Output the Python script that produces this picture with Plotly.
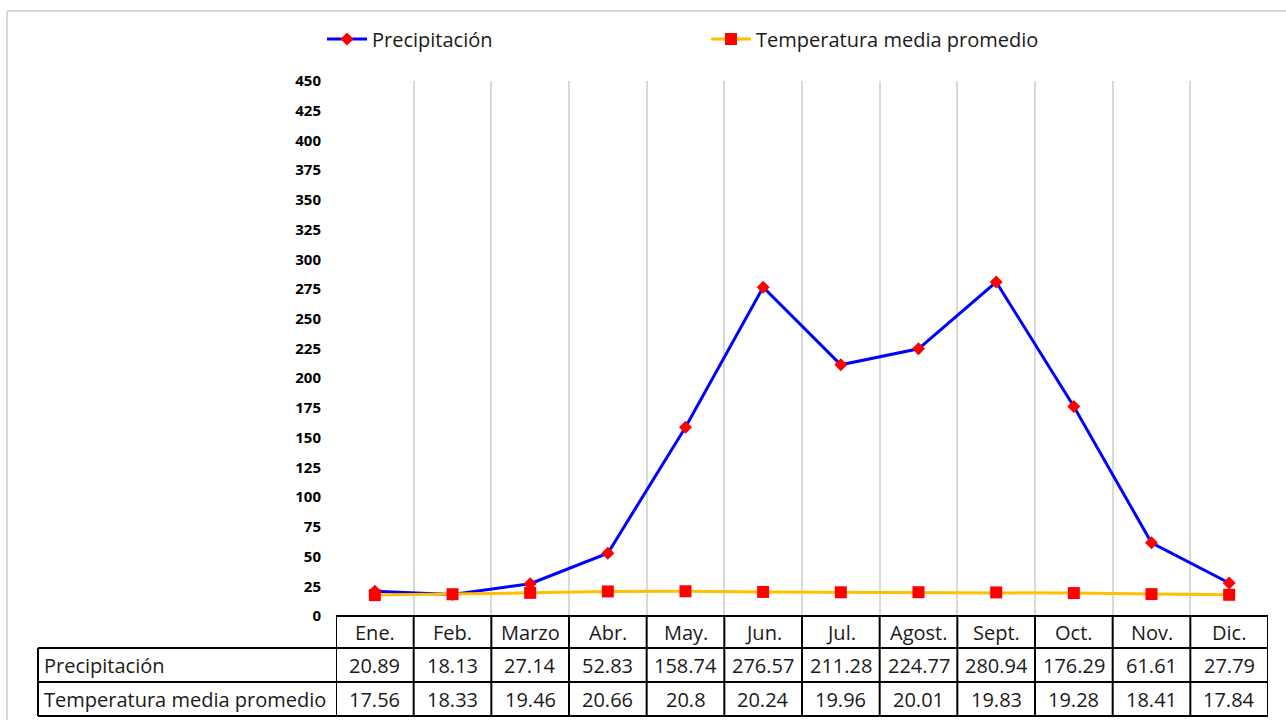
import plotly.graph_objects as go

months = ["Ene.", "Feb.", "Marzo", "Abr.", "May.", "Jun.", "Jul.", "Agost.", "Sept.", "Oct.", "Nov.", "Dic."]
precip = [20.89, 18.13, 27.14, 52.83, 158.74, 276.57, 211.28, 224.77, 280.94, 176.29, 61.61, 27.79]
temp = [17.56, 18.33, 19.46, 20.66, 20.8, 20.24, 19.96, 20.01, 19.83, 19.28, 18.41, 17.84]
series_names = ["Precipitación", "Temperatura media promedio"]

W, H = 1286, 720
FONT = "Open Sans"

def px(x):
    return x / W

def py(y):
    return 1 - y / H

plot_left, plot_right, plot_top, plot_bottom = 336, 1268, 81, 616
row_lines = [616, 648, 682, 716]
table_left = 38

fig = go.Figure()
fig.add_trace(go.Scatter(
    x=months, y=precip, name=series_names[0], mode="lines+markers",
    line=dict(color="#0000FF", width=3),
    marker=dict(symbol="diamond", color="#FF0000", size=10),
))
fig.add_trace(go.Scatter(
    x=months, y=temp, name=series_names[1], mode="lines+markers",
    line=dict(color="#FFC000", width=3),
    marker=dict(symbol="square", color="#FF0000", size=12),
))

shapes = []
# outer light frame
shapes.append(dict(type="line", xref="paper", yref="paper", x0=px(7), x1=1.01, y0=py(11), y1=py(11),
                   line=dict(color="#D9D9D9", width=2)))
shapes.append(dict(type="line", xref="paper", yref="paper", x0=px(7), x1=px(7), y0=py(11), y1=-0.01,
                   line=dict(color="#D9D9D9", width=2)))

# table horizontal lines
blk = dict(color="#000000", width=2)
shapes.append(dict(type="line", xref="paper", yref="paper", x0=px(plot_left), x1=px(plot_right),
                   y0=py(row_lines[0]), y1=py(row_lines[0]), line=blk))
for r in row_lines[1:]:
    shapes.append(dict(type="line", xref="paper", yref="paper", x0=px(table_left), x1=px(plot_right),
                       y0=py(r), y1=py(r), line=blk))
# table vertical lines
shapes.append(dict(type="line", xref="paper", yref="paper", x0=px(table_left), x1=px(table_left),
                   y0=py(row_lines[1]), y1=py(row_lines[3]), line=blk))
for i in range(len(months) + 1):
    shapes.append(dict(type="line", xref="x", yref="paper", x0=i - 0.5, x1=i - 0.5,
                       y0=py(row_lines[0]), y1=py(row_lines[3]), line=blk))

annotations = []
tfont = dict(family=FONT, size=20, color="#1a1a1a")
for i, m in enumerate(months):
    annotations.append(dict(x=i, y=py((row_lines[0] + row_lines[1]) / 2), xref="x", yref="paper",
                            text=m, showarrow=False, font=tfont, xanchor="center", yanchor="middle"))
    annotations.append(dict(x=i, y=py((row_lines[1] + row_lines[2]) / 2), xref="x", yref="paper",
                            text=str(precip[i]), showarrow=False, font=tfont, xanchor="center", yanchor="middle"))
    annotations.append(dict(x=i, y=py((row_lines[2] + row_lines[3]) / 2), xref="x", yref="paper",
                            text=str(temp[i]), showarrow=False, font=tfont, xanchor="center", yanchor="middle"))
for k, nm in enumerate(series_names):
    annotations.append(dict(x=px(table_left + 4), y=py((row_lines[1 + k] + row_lines[2 + k]) / 2),
                            xref="paper", yref="paper", text=nm, showarrow=False, font=tfont,
                            xanchor="left", yanchor="middle"))

fig.update_layout(
    width=W, height=H,
    margin=dict(l=0, r=0, t=0, b=0, autoexpand=False),
    paper_bgcolor="white", plot_bgcolor="white",
    font=dict(family=FONT, color="#1a1a1a"),
    showlegend=True,
    legend=dict(orientation="h", x=px(322), y=py(39), xanchor="left", yanchor="middle",
                font=dict(family=FONT, size=20, color="#1a1a1a"),
                entrywidth=329, entrywidthmode="pixels", itemwidth=40,
                bgcolor="rgba(0,0,0,0)"),
    xaxis=dict(domain=[px(plot_left), px(plot_right)], range=[-0.5, len(months) - 0.5],
               type="category", tickson="boundaries", showgrid=True, gridcolor="#D9D9D9", gridwidth=2,
               showticklabels=False, ticks="", showline=False, zeroline=False, automargin=False),
    yaxis=dict(domain=[py(plot_bottom), py(plot_top)], range=[0, 450], dtick=25, tick0=0,
               showgrid=False, zeroline=False, showline=False, ticks="", automargin=False,
               ticklabelstandoff=14,
               tickfont=dict(family=FONT, size=15, color="#000000", weight="bold")),
    shapes=shapes,
    annotations=annotations,
)

fig.write_html("out.html", config={"displayModeBar": False},
               post_script="document.body.style.margin='0';document.body.style.overflow='hidden';")
